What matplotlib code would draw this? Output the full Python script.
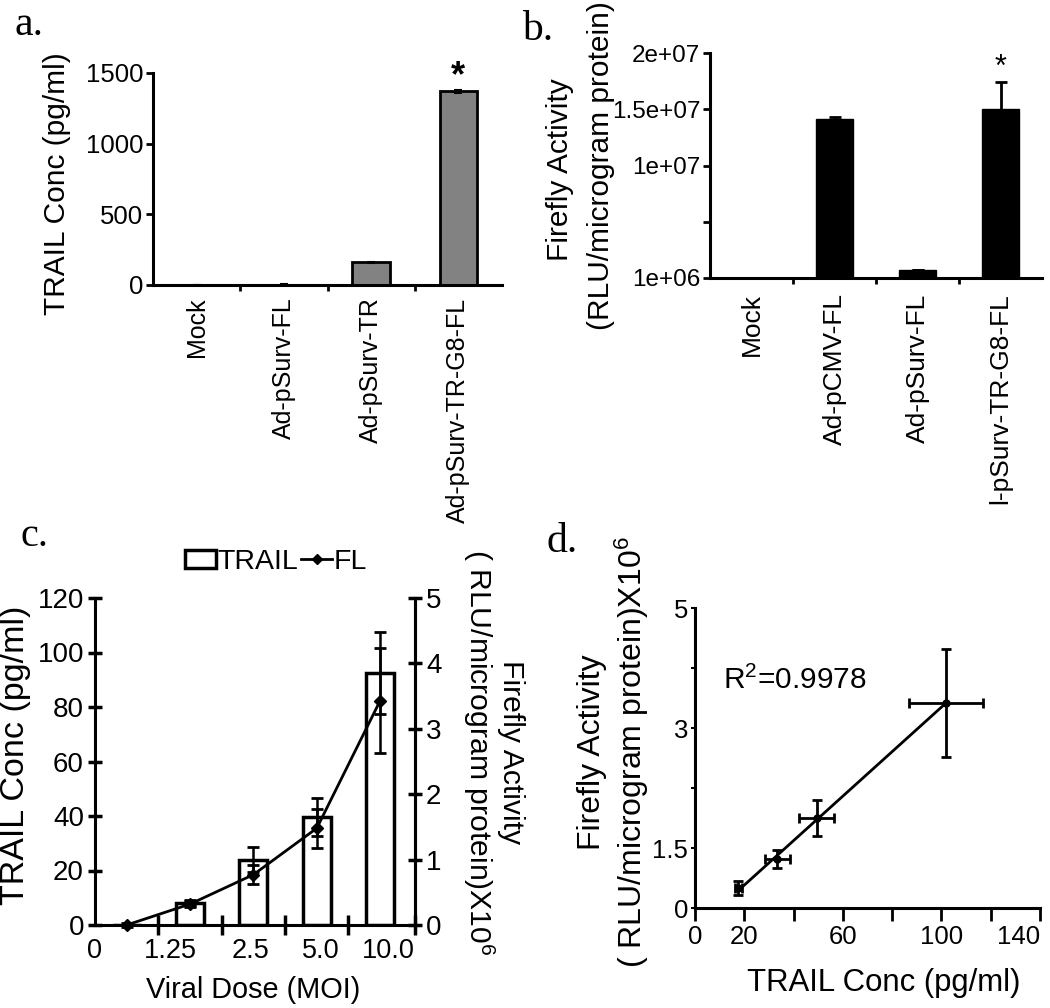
import numpy as np
import matplotlib
matplotlib.use("Agg")
import matplotlib.pyplot as plt
from matplotlib.patches import Patch
from matplotlib.lines import Line2D

plt.rcParams['font.family'] = ['Liberation Sans', 'DejaVu Sans']
plt.rcParams['mathtext.fontset'] = 'custom'
plt.rcParams['mathtext.rm'] = 'Liberation Sans'
plt.rcParams['mathtext.it'] = 'Liberation Sans'
plt.rcParams['mathtext.default'] = 'regular'

# ---------------- data ----------------
a_categories = ["Mock", "Ad-pSurv-FL", "Ad-pSurv-TR", "Ad-pSurv-TR-G8-FL"]
a_values = [0, 3, 160, 1370]
a_errors = [0, 2, 5, 10]
a_yticks = [0, 500, 1000, 1500]

b_categories = ["Mock", "Ad-pCMV-FL", "Ad-pSurv-FL", "l-pSurv-TR-G8-FL"]
b_values = [0, 1.41e7, 6.8e5, 1.50e7]
b_errors = [0, 2.5e5, 0, 2.46e6]
b_yticks = [0, 5e6, 1e7, 1.5e7, 2e7]
b_yticklabels = ["1e+06", "", "1e+07", "1.5e+07", "2e+07"]

c_doses = ["0", "1.25", "2.5", "5.0", "10.0"]
c_trail = [0, 8, 24, 39.5, 92.5]
c_trail_err = [0, 1, 4.5, 7, 15]
c_fl = [0, 0.32, 0.77, 1.48, 3.43]
c_fl_err = [0.03, 0.05, 0.15, 0.3, 0.8]
c_yticks_left = [0, 20, 40, 60, 80, 100, 120]
c_yticks_right = [0, 1, 2, 3, 4, 5]

d_trail = [17.6, 33.4, 49.4, 101.9]
d_trail_err = [1.5, 5, 7, 15]
d_fl = [0.33, 0.81, 1.5, 3.42]
d_fl_err = [0.12, 0.15, 0.3, 0.9]
d_xticks = [0, 20, 40, 60, 80, 100, 120, 140]
d_xticklabels = ["0", "20", "", "60", "", "100", "", "140"]
d_yticks = [0, 1, 2, 3, 4, 5]
d_yticklabels = ["0", "1.5", "", "3", "", "5"]
r2_text = "R$^2$=0.9978"

# ---------------- layout ----------------
W, H = 1050, 1008
fig = plt.figure(figsize=(W / 100, H / 100), dpi=100)


def rect(l, t, r, b):
    return [l / W, 1 - b / H, (r - l) / W, (b - t) / H]


def fx(px):
    return px / W


def fy(py):
    return 1 - py / H


SP = 2.2
serif = ['Liberation Serif', 'DejaVu Serif']

# ---------------- panel a ----------------
axa = fig.add_axes(rect(153, 73, 502, 285))
xa = np.arange(len(a_categories))
axa.bar(xa, a_values, width=0.43, color='#828282', edgecolor='black', linewidth=2,
        yerr=a_errors, error_kw=dict(ecolor='black', elinewidth=1.5, capsize=3, capthick=1.5))
axa.set_xlim(-0.5, len(a_categories) - 0.5)
axa.set_ylim(0, 1500)
axa.spines[['top', 'right']].set_visible(False)
for s in ['left', 'bottom']:
    axa.spines[s].set_linewidth(SP)
axa.set_yticks(a_yticks)
axa.tick_params(axis='y', labelsize=18.5, width=2, length=5, pad=2)
axa.set_xticks(xa, a_categories, rotation=90)
axa.tick_params(axis='x', which='major', length=0, labelsize=18, pad=9)
axa.set_xticks(xa[:-1] + 0.5, minor=True)
axa.tick_params(axis='x', which='minor', length=4, width=2)
axa.annotate('*', xy=(xa[-1], a_values[-1] + a_errors[-1]), xytext=(0, -3),
             textcoords='offset points', ha='center', va='bottom', fontsize=26,
             fontweight='bold', annotation_clip=False)
fig.text(fx(57), fy(184), "TRAIL Conc (pg/ml)", rotation=90, ha='center', va='center',
         fontsize=21.5)

# ---------------- panel b ----------------
axb = fig.add_axes(rect(710, 53, 1042, 278))
xb = np.arange(len(b_categories))
axb.bar(xb, b_values, width=0.45, color='black', edgecolor='black', linewidth=1,
        yerr=b_errors, error_kw=dict(ecolor='black', elinewidth=2, capsize=4, capthick=2))
axb.set_xlim(-0.5, len(b_categories) - 0.5)
axb.set_ylim(0, 2e7)
axb.spines[['top', 'right']].set_visible(False)
for s in ['left', 'bottom']:
    axb.spines[s].set_linewidth(SP)
axb.set_yticks(b_yticks, b_yticklabels)
axb.tick_params(axis='y', labelsize=17.5, width=2, length=5, pad=2)
axb.set_xticks(xb, b_categories, rotation=90)
axb.tick_params(axis='x', which='major', length=0, labelsize=19, pad=11)
axb.set_xticks(xb[:-1] + 0.5, minor=True)
axb.tick_params(axis='x', which='minor', length=4, width=2)
axb.annotate('*', xy=(xb[-1], b_values[-1] + b_errors[-1]), xytext=(0, -1),
             textcoords='offset points', ha='center', va='bottom', fontsize=22,
             annotation_clip=False)
fig.text(fx(560), fy(170), "Firefly Activity", rotation=90,
         ha='center', va='center', fontsize=21.5)
fig.text(fx(601), fy(166), "(RLU/microgram protein)", rotation=90,
         ha='center', va='center', fontsize=21.5)

# ---------------- panel c ----------------
axc = fig.add_axes(rect(95, 598, 415, 925))
xc = np.arange(len(c_doses))
axc.bar(xc, c_trail, width=0.44, color='white', edgecolor='black', linewidth=2.5,
        yerr=c_trail_err, error_kw=dict(ecolor='black', elinewidth=1.8, capsize=4, capthick=2))
axc.set_xlim(-0.5, 4.55)
axc.set_ylim(0, 120)
axc.spines['top'].set_visible(False)
for s in ['left', 'right', 'bottom']:
    axc.spines[s].set_linewidth(SP)
axc.set_yticks(c_yticks_left)
axc.tick_params(axis='y', labelsize=20, width=2.5, length=10, direction='inout', pad=3)
label_pos = [-0.5, 0.69, 1.96, 3.07, 4.13]
axc.set_xticks(label_pos, c_doses)
axc.tick_params(axis='x', which='major', length=0, labelsize=19.5, pad=9)
axc.set_xticks([-0.5, 0.5, 1.5, 2.5, 3.5, 4.55], minor=True)
axc.tick_params(axis='x', which='minor', length=14, width=2.5, direction='inout')

ax2 = axc.twinx()
ax2.set_ylim(0, 5)
ax2.spines['top'].set_visible(False)
ax2.spines['right'].set_linewidth(SP)
ax2.set_yticks(c_yticks_right)
ax2.tick_params(axis='y', labelsize=20, width=2.5, length=10, direction='inout', pad=3)
ax2.errorbar(xc, c_fl, yerr=c_fl_err, color='black', marker='D', ms=6, lw=2,
             elinewidth=1.8, capsize=4, capthick=2, clip_on=False)

handles = [Patch(facecolor='white', edgecolor='black', linewidth=2.5),
           Line2D([], [], color='black', marker='D', ms=5, lw=2)]
fig.legend(handles, ['TRAIL', 'FL'], loc='center', bbox_to_anchor=(fx(276), fy(562)), ncol=2,
           frameon=False, fontsize=20.5, handlelength=1.1, handleheight=0.6,
           handletextpad=0.05, columnspacing=0.1, borderpad=0)

fig.text(fx(16), fy(755), "TRAIL Conc (pg/ml)", rotation=90, ha='center', va='center',
         fontsize=24.5)
fig.text(fx(493), fy(752), "Firefly Activity\n( RLU/microgram protein)X10$^6$", rotation=-90,
         ha='center', va='center', fontsize=21.7, linespacing=1.0)
fig.text(fx(253), fy(990), "Viral Dose (MOI)", ha='center', va='center', fontsize=20.8)

# ---------------- panel d ----------------
axd = fig.add_axes(rect(695, 608, 1040, 908))
axd.errorbar(d_trail, d_fl, xerr=d_trail_err, yerr=d_fl_err, fmt='o', ms=5, color='black',
             elinewidth=2, capsize=3.5, capthick=2)
slope, intercept = np.polyfit(d_trail, d_fl, 1)
xs = np.array([min(d_trail), max(d_trail)])
axd.plot(xs, slope * xs + intercept, color='black', lw=2)
axd.set_xlim(0, 140)
axd.set_ylim(0, 5)
axd.spines[['top', 'right']].set_visible(False)
for s in ['left', 'bottom']:
    axd.spines[s].set_linewidth(SP)
axd.set_xticks(d_xticks, d_xticklabels)
axd.tick_params(axis='x', labelsize=18.5, width=2, length=9, pad=3)
axd.get_xticklabels()[-1].set_horizontalalignment('right')
axd.set_yticks(d_yticks, d_yticklabels)
axd.tick_params(axis='y', labelsize=18.5, width=1.5, length=3, pad=2)
axd.text(11.5, 3.8, r2_text, ha='left', va='center', fontsize=21.5)
fig.text(fx(614), fy(752), "Firefly Activity\n( RLU/microgram protein)X10$^6$", rotation=90,
         ha='center', va='center', fontsize=23, linespacing=1.2)
fig.text(fx(884), fy(983), "TRAIL Conc (pg/ml)", ha='center', va='center', fontsize=22.4)

# ---------------- panel letters ----------------
fig.text(fx(14), fy(35), "a.", fontsize=30, family=serif, ha='left', va='baseline')
fig.text(fx(522), fy(40), "b.", fontsize=30, family=serif, ha='left', va='baseline')
fig.text(fx(20), fy(546), "c.", fontsize=29, family=serif, ha='left', va='baseline')
fig.text(fx(546), fy(552), "d.", fontsize=30, family=serif, ha='left', va='baseline')

fig.savefig("out.png", dpi=100)
